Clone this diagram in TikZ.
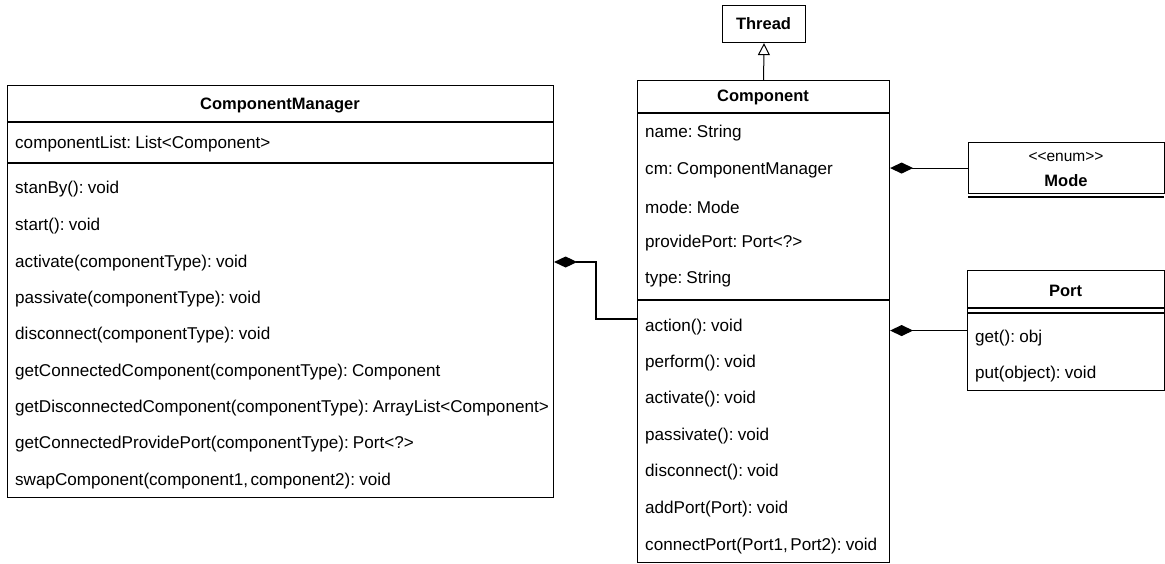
\documentclass[tikz,border=0pt]{standalone}
\usepackage{fontspec}
\setmainfont[WordSpace=0.55]{Liberation Sans}
\usetikzlibrary{arrows.meta}
\tikzset{
  classbox/.style={draw, line width=1.1pt, inner sep=0pt, anchor=north west},
  sep/.style={line width=1.1pt},
  member/.style={anchor=west, inner sep=0pt, yshift=-2pt, font=\fontsize{17.1}{19}\selectfont},
  title/.style={inner sep=0pt, yshift=-1pt, font=\fontsize{16.5}{19}\selectfont\bfseries},
  stereo/.style={inner sep=0pt, font=\fontsize{15.5}{17}\selectfont},
  inherit/.style={line width=1pt, -{Triangle[open, length=12pt, width=12pt]}},
  compose/.style={line width=1.1pt, {Diamond[length=23pt, width=11pt]}-}
}
\begin{document}
\begin{tikzpicture}[x=1pt, y=-1pt]
\useasboundingbox (0,0) rectangle (1165,563);

% ---- ComponentManager ----
\node[classbox, minimum width=546pt, minimum height=412pt] (cm) at (7,85) {};
\draw[sep] (7,122) -- (553,122);
\draw[sep] (7,163) -- (553,163);
\node[title] (cmt) at (280,104) {ComponentManager};
\node[member] (cma1) at (15,142) {componentList: List<Component>};
\node[member] (cmm1) at (15,187) {stanBy(): void};
\node[member] (cmm2) at (15,224) {start(): void};
\node[member] (cmm3) at (15,261) {activate(componentType): void};
\node[member] (cmm4) at (15,297) {passivate(componentType): void};
\node[member] (cmm5) at (15,333) {disconnect(componentType): void};
\node[member] (cmm6) at (15,370) {getConnectedComponent(componentType): Component};
\node[member] (cmm7) at (15,406) {getDisconnectedComponent(componentType): ArrayList<Component>};
\node[member] (cmm8) at (15,442) {getConnectedProvidePort(componentType): Port<?>};
\node[member] (cmm9) at (15,479) {swapComponent(component1, component2): void};

% ---- Thread ----
\node[classbox, minimum width=83pt, minimum height=37pt] (thread) at (722,5) {};
\node[title] (threadt) at (763.5,23) {Thread};

% ---- Component ----
\node[classbox, minimum width=252pt, minimum height=482pt] (comp) at (637,80) {};
\draw[sep] (637,113) -- (889,113);
\draw[sep] (637,300) -- (889,300);
\node[title] (compt) at (763,96) {Component};
\node[member] (ca1) at (645,131) {name: String};
\node[member] (ca2) at (645,168) {cm: ComponentManager};
\node[member] (ca3) at (645,205) {mode: Mode};
\node[member] (ca4) at (645,241) {providePort: Port<?>};
\node[member] (ca5) at (645,277) {type: String};
\node[member] (cm1) at (645,325) {action(): void};
\node[member] (cm2) at (645,361) {perform(): void};
\node[member] (cm3) at (645,397) {activate(): void};
\node[member] (cm4) at (645,434) {passivate(): void};
\node[member] (cm5) at (645,470) {disconnect(): void};
\node[member] (cm6) at (645,507) {addPort(Port): void};
\node[member] (cm7) at (645,544) {connectPort(Port1, Port2): void};

% ---- Mode (enumeration) ----
\node[classbox, minimum width=196pt, minimum height=51pt] (mode) at (968,142) {};
\draw[sep] (968,197) -- (1164,197);
\node[stereo] (modes) at (1066,157) {{<}{<}enum{>}{>}};
\node[title] (modet) at (1066,180) {Mode};

% ---- Port ----
\node[classbox, minimum width=197pt, minimum height=120pt] (port) at (967,270) {};
\draw[sep] (967,308) -- (1164,308);
\draw[sep] (967,313) -- (1164,313);
\node[title] (portt) at (1065.5,290) {Port};
\node[member] (pm1) at (975,336) {get(): obj};
\node[member] (pm2) at (975,372) {put(object): void};

% ---- relations ----
\draw[inherit] (comp.north) -- (thread.south);
\draw[compose] (comp.east |- mode.west) -- (mode.west);
\draw[compose] (comp.east |- port.west) -- (port.west);
\coordinate (cmend) at (cm.east |- 0,262);
\coordinate (compend) at (comp.west |- 0,319);
\draw[compose] (cmend) -- (596,262) |- (compend);
\end{tikzpicture}
\end{document}
